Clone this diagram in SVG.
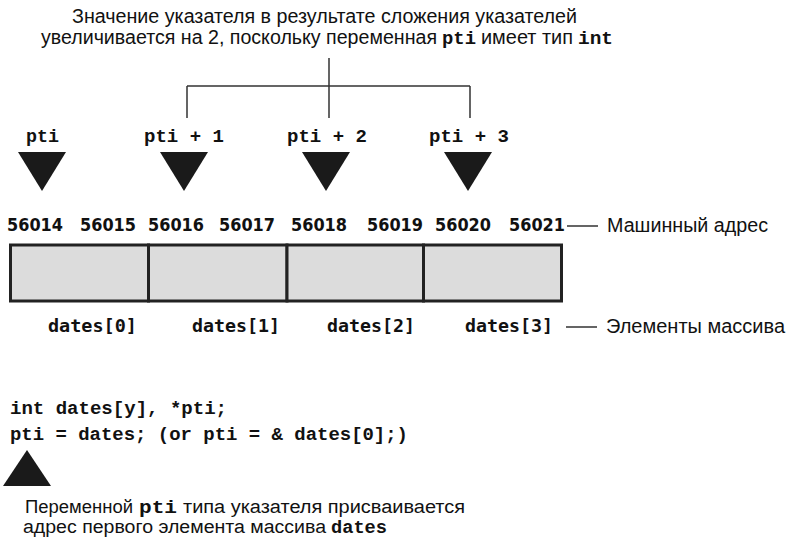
<svg xmlns="http://www.w3.org/2000/svg" width="786" height="544" viewBox="0 0 786 544">
<style>
.sans{font-family:"Liberation Sans",Arial,sans-serif;font-size:18px;fill:#111}
.cond{font-family:"Liberation Sans",Arial,sans-serif;font-size:19.5px;fill:#111}
.mono{font-family:"Liberation Mono","Courier New",monospace;font-weight:bold;font-size:19px;fill:#111}
.gm{font-family:"DejaVu Sans Mono",monospace;font-weight:bold;font-size:18px;fill:#111}
.addr{font-family:"DejaVu Sans","Liberation Sans",sans-serif;font-weight:bold;font-size:17.5px;fill:#111}
.ln{stroke:#333;stroke-width:1.5;fill:none}
.tri{fill:#1a1a1a}
.cell{fill:#dcdcdc;stroke:#222;stroke-width:3}
</style>
<rect width="786" height="544" fill="#fff"/>
<g id="top-note">
<text class="cond" x="72" y="23" textLength="505" lengthAdjust="spacingAndGlyphs">Значение указателя в результате сложения указателей</text>
<text class="cond" x="41" y="44" textLength="396" lengthAdjust="spacingAndGlyphs">увеличивается на 2, поскольку переменная</text>
<text class="mono" x="442" y="44" textLength="34" lengthAdjust="spacingAndGlyphs">pti</text>
<text class="cond" x="481" y="44" textLength="92" lengthAdjust="spacingAndGlyphs">имеет тип</text>
<text class="mono" x="578" y="44" textLength="35" lengthAdjust="spacingAndGlyphs">int</text>
</g>
<g id="connectors">
<path class="ln" d="M329 58V118M187 86H470M187 86V118M470 86V118"/>
<path class="ln" d="M567 226H598M566 327H597"/>
</g>
<g id="pointer-pti">
<text class="mono" x="26" y="142" textLength="33" lengthAdjust="spacingAndGlyphs">pti</text>
<polygon class="tri" points="18,152 66,152 42,191"/>
</g>
<g id="pointer-pti1">
<text class="mono" x="144" y="142" textLength="80" lengthAdjust="spacingAndGlyphs">pti + 1</text>
<polygon class="tri" points="160,152 208,152 184,191"/>
</g>
<g id="pointer-pti2">
<text class="mono" x="287" y="142" textLength="80" lengthAdjust="spacingAndGlyphs">pti + 2</text>
<polygon class="tri" points="302,152 350,152 326,191"/>
</g>
<g id="pointer-pti3">
<text class="mono" x="429" y="142" textLength="80" lengthAdjust="spacingAndGlyphs">pti + 3</text>
<polygon class="tri" points="444,152 492,152 468,191"/>
</g>
<g id="addresses">
<text class="addr" x="7" y="231" textLength="56" lengthAdjust="spacingAndGlyphs">56014</text>
<text class="addr" x="80" y="231" textLength="56" lengthAdjust="spacingAndGlyphs">56015</text>
<text class="addr" x="148" y="231" textLength="56" lengthAdjust="spacingAndGlyphs">56016</text>
<text class="addr" x="219" y="231" textLength="56" lengthAdjust="spacingAndGlyphs">56017</text>
<text class="addr" x="291" y="231" textLength="56" lengthAdjust="spacingAndGlyphs">56018</text>
<text class="addr" x="367" y="231" textLength="56" lengthAdjust="spacingAndGlyphs">56019</text>
<text class="addr" x="435" y="231" textLength="56" lengthAdjust="spacingAndGlyphs">56020</text>
<text class="addr" x="509" y="231" textLength="56" lengthAdjust="spacingAndGlyphs">56021</text>
<text class="cond" x="607" y="232" textLength="161" lengthAdjust="spacingAndGlyphs">Машинный адрес</text>
</g>
<g id="array">
<rect class="cell" x="10.5" y="245" width="138" height="56"/>
<rect class="cell" x="148.5" y="245" width="138.5" height="56"/>
<rect class="cell" x="287" y="245" width="136.5" height="56"/>
<rect class="cell" x="423.5" y="245" width="138" height="56"/>
</g>
<g id="elements">
<text class="gm" x="48" y="332" textLength="89" lengthAdjust="spacingAndGlyphs">dates[0]</text>
<text class="gm" x="192" y="332" textLength="88" lengthAdjust="spacingAndGlyphs">dates[1]</text>
<text class="gm" x="327" y="332" textLength="88" lengthAdjust="spacingAndGlyphs">dates[2]</text>
<text class="gm" x="465" y="332" textLength="88" lengthAdjust="spacingAndGlyphs">dates[3]</text>
<text class="cond" x="606" y="333" textLength="179" lengthAdjust="spacingAndGlyphs">Элементы массива</text>
</g>
<g id="code">
<text class="mono" x="10" y="414" textLength="217" lengthAdjust="spacingAndGlyphs">int dates[y], *pti;</text>
<text class="mono" x="10" y="440" textLength="398" lengthAdjust="spacingAndGlyphs">pti = dates; (or pti = &amp; dates[0];)</text>
<polygon class="tri" points="27,450 51,486 3,486"/>
</g>
<g id="bottom-note">
<text class="sans" x="25" y="513" textLength="108" lengthAdjust="spacingAndGlyphs">Переменной</text>
<text class="mono" x="139" y="513" textLength="38" lengthAdjust="spacingAndGlyphs">pti</text>
<text class="sans" x="183" y="513" textLength="282" lengthAdjust="spacingAndGlyphs">типа указателя присваивается</text>
<text class="sans" x="23" y="533" textLength="303" lengthAdjust="spacingAndGlyphs">адрес первого элемента массива</text>
<text class="mono" x="331" y="533" textLength="56" lengthAdjust="spacingAndGlyphs">dates</text>
</g>
</svg>
